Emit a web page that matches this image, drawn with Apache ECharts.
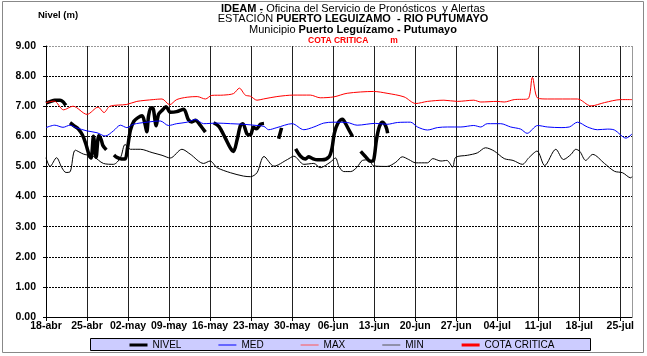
<!DOCTYPE html>
<html>
<head>
<meta charset="utf-8">
<script src="https://cdn.jsdelivr.net/npm/echarts@6/dist/echarts.min.js"></script>
<style>
  html, body { margin: 0; padding: 0; background: #fff; }
  #chart { width: 647px; height: 356px; }
</style>
</head>
<body>
<div id="chart"></div>
<script>
// dias contados desde 18-abr
var xTickLabels = ['18-abr', '25-abr', '02-may', '09-may', '16-may', '23-may', '30-may',
  '06-jun', '13-jun', '20-jun', '27-jun', '04-jul', '11-jul', '18-jul', '25-jul']
var yTickLabels = ['0.00', '1.00', '2.00', '3.00', '4.00', '5.00', '6.00', '7.00', '8.00', '9.00']

// NIVEL (null = sin dato)
var nivelDays = [0, 0.7, 1.5, 2.4, 2.9, 3.4, 3.8,
  4.1, 4.8, 5.5, 6.2, 6.8, 7.4, 7.7, 8.1, 8.55, 9.0, 9.4, 9.7, 10.3, 11,
  11.6, 12.1, 12.9, 13.5, 13.9, 14.4, 15.0, 15.7, 16.4, 16.9, 17.2, 17.5, 17.9, 18.2, 18.8, 19.2, 19.8, 20.5, 21.2, 22.3, 23.5, 24.3, 24.9, 25.5, 26.2, 27.2, 28,
  28.6, 29.5, 30.6, 31.5, 32.0, 32.6, 33.2, 33.6, 34.3, 34.9, 35.4, 35.9, 36.6, 37.2, 38,
  39.7, 40.2, 41,
  42.6, 43.4, 44.3, 44.8, 45.5, 46.3, 47.1, 48.3, 48.8, 49.2, 49.8, 50.6, 51.1, 51.7, 52.3, 53,
  53.7, 54.5, 55.4, 55.9, 56.4, 56.9, 57.4, 58.0, 58.3]
var nivelVals = [7.10, 7.15, 7.20, 7.20, 7.15, 7.03, null,
  6.45, 6.35, 6.25, 6.05, 5.75, 5.35, 5.28, 6.00, 5.30, 6.02, 5.90, 5.70, 5.55, null,
  5.38, 5.30, 5.25, 5.25, 5.60, 6.20, 6.50, 6.62, 6.68, 6.40, 6.15, 6.68, 6.95, 6.95, 6.35, 6.73, 6.86, 6.98, 6.80, 6.82, 6.90, 6.55, 6.48, 6.53, 6.40, 6.14, null,
  6.45, 6.33, 5.94, 5.60, 5.50, 5.88, 6.37, 6.42, 6.08, 6.05, 6.30, 6.25, 6.40, 6.43, null,
  5.92, 6.28, null,
  5.58, 5.35, 5.25, 5.32, 5.26, 5.22, 5.22, 5.32, 5.60, 6.10, 6.43, 6.57, 6.43, 6.21, 6.00, null,
  5.50, 5.33, 5.17, 5.20, 5.90, 6.33, 6.47, 6.33, 6.10]

// MED
var medDays = [0, 1.5, 2.9, 4.1, 5.1, 7.0, 8.7, 10.1, 11.5, 12.7, 13.8, 14.9, 17.2, 19.5, 20.9,
  22.3, 24.1, 25.5, 26.9, 29.2, 31.5, 33.7, 36.0, 37.2, 38.0, 39.4, 42.0, 44.0, 45.7, 47.4,
  49.1, 51.4, 53.1, 56.2, 58.2, 60.0, 62.2, 63.4, 65.1, 66.8, 68.5, 70.8, 73.0, 74.2, 75.3,
  77.6, 79.3, 81.0, 82.1, 83.9, 85.6, 87.9, 89.3, 90.7, 92.4, 94.1, 95.8, 97.0, 99.0, 100]
var medVals = [6.29, 6.37, 6.30, 6.37, 6.29, 6.18, 6.12, 6.01, 6.18, 6.37, 6.29, 6.40, 6.47, 6.51, 6.36,
  6.42, 6.47, 6.56, 6.42, 6.44, 6.42, 6.40, 6.36, 6.33, 6.22, 6.29, 6.42, 6.22, 6.31, 6.44,
  6.47, 6.46, 6.37, 6.43, 6.40, 6.46, 6.47, 6.31, 6.21, 6.29, 6.31, 6.31, 6.36, 6.31, 6.42,
  6.42, 6.31, 6.24, 6.10, 6.36, 6.31, 6.29, 6.31, 6.47, 6.31, 6.22, 6.24, 6.21, 5.94, 6.08]

// MAX
var maxDays = [0, 1.4, 3.0, 4.6, 7.0, 8.9, 9.9, 10.9, 13.8, 15.5, 18.3, 19.8, 21.1, 22.3, 24.1, 25.8,
  27.2, 28.3, 30.3, 32.0, 33.0, 34.0, 34.9, 36.0, 37.1, 39.4, 42.3, 45.1, 46.8, 49.1, 51.4,
  55.9, 58.2, 61.1, 63.1, 65.1, 67.9, 70.2, 73.0, 74.2, 77.0, 78.2, 79.9, 82.2, 83.0, 83.9,
  85.6, 90.7, 93.0, 95.3, 98.1, 100]
var maxVals = [7.12, 7.17, 6.88, 7.00, 6.73, 6.97, 6.79, 7.00, 7.06, 7.16, 7.22, 7.24, 7.05, 7.22, 7.30, 7.32,
  7.24, 7.36, 7.37, 7.42, 7.60, 7.37, 7.33, 7.20, 7.24, 7.32, 7.37, 7.37, 7.28, 7.31, 7.43,
  7.49, 7.43, 7.31, 7.09, 7.16, 7.20, 7.16, 7.20, 7.14, 7.16, 7.14, 7.22, 7.24, 7.96, 7.27,
  7.24, 7.24, 7.01, 7.12, 7.22, 7.22]

// MIN
var minDays = [0, 0.7, 1.8, 2.7, 3.4, 4.1, 5.0, 6.4, 8.1, 9.8, 11.5, 12.7, 13.5, 14.4, 16.1,
  18.1, 19.8, 21.2, 23.2, 24.6, 26.9, 28.0, 29.2, 31.5, 33.7, 34.9, 36.0, 37.2, 38.9, 41.2,
  42.3, 44.0, 45.7, 46.8, 48.5, 49.4, 50.0, 50.8, 52.0, 53.1, 54.0, 55.1, 55.9, 58.2, 59.7,
  60.8, 61.9, 63.1, 65.1, 66.0, 67.4, 68.4, 69.4, 69.9, 71.9, 73.6, 75.0, 76.5, 78.2, 79.7,
  81.3, 82.4, 83.8, 85.1, 87.0, 88.3, 89.6, 90.4, 91.1, 92.1, 93.3, 95.3, 97.0, 98.4, 99.8, 100]
var minVals = [5.29, 5.00, 5.29, 4.96, 4.80, 4.82, 5.54, 5.41, 5.33, 5.10, 5.07, 5.29, 5.73, 5.57, 5.57,
  5.46, 5.37, 5.28, 5.57, 5.41, 5.10, 5.18, 4.96, 4.79, 4.68, 4.66, 4.79, 5.33, 5.01, 5.23,
  5.34, 5.07, 5.10, 4.96, 5.14, 5.28, 5.00, 4.83, 4.83, 4.98, 5.20, 5.22, 5.02, 5.00, 5.14,
  5.32, 5.23, 5.12, 5.12, 5.26, 5.18, 5.20, 4.98, 5.30, 5.37, 5.45, 5.62, 5.51, 5.26, 5.20,
  5.07, 5.29, 5.51, 5.03, 5.57, 5.23, 5.40, 5.57, 5.50, 5.20, 5.40, 5.10, 4.84, 4.79, 4.62, 4.66]

// cota critica: sin valor en la grafica
var cotaDays = []
var cotaVals = []

var font = 'Liberation Sans, Arial, sans-serif'

function pairs(days, vals) {
  return days.map(function (d, i) {
    return [d, vals[i] === null ? '-' : vals[i]]
  })
}

function lineSeries(name, days, vals, color, width) {
  return {
    name: name,
    type: 'line',
    data: pairs(days, vals),
    symbol: 'none',
    showSymbol: false,
    smooth: 0.3,
    connectNulls: false,
    animation: false,
    lineStyle: { color: color, width: width },
    itemStyle: { color: color }
  }
}

// colores de la rejilla, la ultima linea es el borde gris
var ySplitColors = []
for (var i = 0; i < 9; i++) ySplitColors.push('#000')
ySplitColors.push('#999')
var xSplitColors = []
for (var j = 0; j < 15; j++) xSplitColors.push('#222')
xSplitColors.push('#999')

var chart = echarts.init(document.getElementById('chart'), null, { renderer: 'canvas' })
chart.setOption({
  backgroundColor: '#fff',
  textStyle: { fontFamily: font },
  title: [{
    left: 353,
    top: 3.5,
    padding: 0,
    textAlign: 'center',
    text: '{b|IDEAM -} {n|Oficina del Servicio de Pronósticos  y Alertas}\n' +
      '{n|ESTACIÓN} {b|PUERTO LEGUIZAMO  - RIO PUTUMAYO}\n' +
      '{n|Municipio} {b|Puerto Leguízamo - Putumayo}\n' +
      '{r|COTA CRITICA}{rm|m}',
    textStyle: {
      fontFamily: font,
      fontSize: 11,
      fontWeight: 'normal',
      lineHeight: 10.5,
      color: '#000',
      rich: {
        b: { fontFamily: font, fontSize: 11, fontWeight: 'bold', color: '#000', lineHeight: 10.5 },
        n: { fontFamily: font, fontSize: 11, color: '#000', lineHeight: 10.5 },
        r: { fontFamily: font, fontSize: 8.5, fontWeight: 'bold', color: '#ff0000', lineHeight: 10.5 },
        rm: { fontFamily: font, fontSize: 8.5, fontWeight: 'bold', color: '#ff0000', lineHeight: 10.5, padding: [0, 0, 0, 22] }
      }
    }
  }, {
    left: 38,
    top: 10,
    padding: 0,
    text: 'Nivel (m)',
    textStyle: { fontFamily: font, fontSize: 9.5, fontWeight: 'bold', color: '#000' }
  }],
  legend: {
    left: 90,
    top: 339,
    padding: [1, 0, 1, 38],
    itemWidth: 18,
    itemHeight: 10,
    itemGap: 36.5,
    z: 10,
    itemStyle: { opacity: 0 },
    textStyle: { fontFamily: font, fontSize: 10, color: '#000' },
    data: [
      { name: 'NIVEL', lineStyle: { width: 3, color: '#000' } },
      { name: 'MED', lineStyle: { width: 1, color: '#0000ff' } },
      { name: 'MAX', lineStyle: { width: 1, color: '#ff5555' } },
      { name: 'MIN', lineStyle: { width: 1, color: '#555' } },
      { name: 'COTA CRITICA', lineStyle: { width: 3, color: '#ff0000' } }
    ]
  },
  graphic: [{
    type: 'rect',
    z: 0,
    shape: { x: 2.5, y: 1.5, width: 641, height: 351 },
    style: { fill: null, stroke: '#888', lineWidth: 1 },
    silent: true
  }, {
    // caja de la leyenda
    type: 'rect',
    z: 0,
    shape: { x: 90.5, y: 338.5, width: 500, height: 12 },
    style: { fill: '#ccccff', stroke: '#000', lineWidth: 1 },
    silent: true
  }],
  grid: { left: 46, right: 15, top: 46, bottom: 39 },
  xAxis: {
    type: 'value',
    min: 0,
    max: 100,
    interval: 7,
    axisLine: { lineStyle: { color: '#000', width: 1 } },
    axisTick: { show: true, length: 4, lineStyle: { color: '#000' } },
    axisLabel: {
      fontFamily: font, fontSize: 10.5, fontWeight: 'bold', color: '#000', margin: 4,
      showMaxLabel: false,
      formatter: function (v) {
        var k = Math.round(v / 7)
        return (v % 7 === 0 && xTickLabels[k]) ? xTickLabels[k] : ''
      }
    },
    splitLine: { show: true, lineStyle: { color: xSplitColors, width: 1 } }
  },
  yAxis: {
    type: 'value',
    min: 0,
    max: 9,
    interval: 1,
    axisLine: { show: true, lineStyle: { color: '#000', width: 1 } },
    axisTick: { show: true, length: 3, lineStyle: { color: '#000' } },
    axisLabel: {
      fontFamily: font, fontSize: 10.5, fontWeight: 'bold', color: '#000', margin: 10,
      formatter: function (v) { return yTickLabels[Math.round(v)] }
    },
    splitLine: { show: true, lineStyle: { color: ySplitColors, type: [2, 1], width: 1 } }
  },
  series: [
    lineSeries('NIVEL', nivelDays, nivelVals, '#000', 3.5),
    lineSeries('MED', medDays, medVals, '#0000ff', 1),
    lineSeries('MAX', maxDays, maxVals, '#ff0000', 1),
    lineSeries('MIN', minDays, minVals, '#000', 1),
    lineSeries('COTA CRITICA', cotaDays, cotaVals, '#ff0000', 3.5)
  ]
})
</script>
</body>
</html>
